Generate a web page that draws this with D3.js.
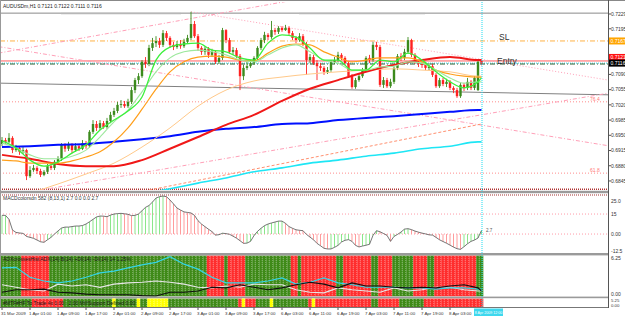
<!DOCTYPE html>
<html><head><meta charset="utf-8">
<script src="https://d3js.org/d3.v7.min.js"></script>
<style>
html,body{margin:0;padding:0;background:#fff;overflow:hidden}
svg{display:block}
text{font-family:"Liberation Sans",Arial,sans-serif}
</style></head><body>
<svg id="chart" width="625" height="316"></svg>
<script>
// ---------------- DATA (prices in 1/10000, i.e. 7116 = 0.7116) ----------------
const symbolTitle = "AUDUSDm,H1  0.7121 0.7122 0.7111 0.7116";
const timeLabels = ["31 Mar 2009","1 Apr 01:00","1 Apr 09:00","1 Apr 17:00","2 Apr 01:00","2 Apr 09:00","2 Apr 17:00","3 Apr 01:00","3 Apr 09:00","3 Apr 17:00","6 Apr 03:00","6 Apr 11:00","6 Apr 19:00","7 Apr 03:00","7 Apr 11:00","7 Apr 19:00","8 Apr 03:00"];
const timeLabelBars = [0,8,16,24,32,40,48,56,64,72,80,88,96,104,112,120,128];
const cursorLabel = "8 Apr 2009 12:00";
const priceTicks = [7229,7195,7090,7055,7020,6985,6950,6915,6880,6845];

const openP = [6930,6939,6935,6944,6916,6921,6912,6916,6856,6870,
6875,6868,6859,6866,6879,6875,6889,6896,6928,6919,
6928,6916,6925,6919,6932,6925,6958,6976,6967,6978,
6969,6983,6997,7006,7020,7022,7017,7027,7054,7077,
7086,7119,7114,7151,7162,7167,7158,7185,7174,7158,
7153,7160,7155,7165,7174,7206,7178,7151,7142,7149,
7135,7142,7119,7128,7192,7169,7142,7146,7132,7086,
7105,7109,7116,7128,7151,7169,7181,7176,7192,7188,
7197,7192,7197,7185,7174,7169,7178,7160,7123,7130,
7116,7109,7105,7096,7100,7119,7123,7135,7128,7116,
7086,7061,7077,7086,7100,7128,7123,7158,7153,7066,
7077,7063,7073,7105,7132,7128,7142,7169,7135,7119,
7114,7112,7105,7109,7089,7063,7077,7068,7073,7059,
7054,7040,7066,7059,7073,7059,7054,7121];
const highP = [6946,6944,6955,6948,6928,6925,6923,6919,6879,6882,
6879,6873,6870,6884,6884,6893,6902,6932,6932,6935,
6932,6932,6930,6939,6937,6962,6985,6983,6985,6983,
6990,7004,7013,7027,7031,7029,7034,7061,7082,7093,
7123,7130,7158,7174,7178,7174,7192,7190,7178,7165,
7167,7169,7172,7181,7234,7213,7183,7155,7155,7153,
7149,7146,7135,7197,7194,7174,7153,7151,7137,7112,
7119,7123,7132,7155,7174,7188,7185,7213,7197,7201,
7201,7204,7201,7190,7178,7185,7183,7165,7137,7135,
7123,7116,7109,7107,7123,7130,7142,7139,7132,7121,
7091,7082,7093,7105,7132,7135,7165,7165,7158,7084,
7082,7080,7109,7137,7139,7149,7176,7172,7139,7123,
7121,7119,7116,7114,7093,7082,7082,7080,7077,7063,
7059,7070,7070,7082,7077,7086,7123,7122];
const lowP = [6925,6930,6932,6909,6912,6905,6907,6847,6852,6866,
6861,6854,6856,6861,6870,6870,6884,6891,6912,6914,
6909,6912,6914,6916,6919,6921,6953,6960,6962,6965,
6965,6978,6992,7001,7013,7013,7013,7022,7047,7068,
7082,7105,7109,7144,7153,7151,7153,7167,7151,7146,
7149,7149,7151,7160,7169,7174,7144,7135,7135,7128,
7130,7114,7114,7123,7162,7137,7135,7128,7054,7077,
7100,7105,7112,7123,7146,7162,7169,7172,7181,7183,
7188,7190,7181,7169,7162,7165,7155,7089,7116,7112,
7077,7098,7089,7091,7096,7114,7119,7123,7112,7082,
7057,7057,7073,7082,7096,7116,7119,7146,7061,7059,
7059,7059,7068,7100,7121,7123,7137,7130,7114,7107,
7105,7100,7100,7084,7059,7059,7063,7061,7054,7047,
7036,7036,7052,7054,7054,7054,7052,7111];
const closeP = [6939,6935,6944,6916,6921,6912,6916,6856,6870,6875,
6868,6859,6866,6879,6875,6889,6896,6928,6919,6928,
6916,6925,6919,6932,6925,6958,6976,6967,6978,6969,
6983,6997,7006,7020,7022,7017,7027,7054,7077,7086,
7119,7114,7151,7162,7167,7158,7185,7174,7158,7153,
7160,7155,7165,7174,7206,7178,7151,7142,7149,7135,
7142,7119,7128,7192,7169,7142,7146,7132,7086,7105,
7109,7116,7128,7151,7169,7181,7176,7192,7188,7197,
7192,7197,7185,7174,7169,7178,7160,7123,7130,7116,
7109,7105,7096,7100,7119,7123,7135,7128,7116,7086,
7061,7077,7086,7100,7128,7123,7158,7153,7066,7077,
7063,7073,7105,7132,7128,7142,7169,7135,7119,7114,
7112,7105,7109,7089,7063,7077,7068,7073,7059,7054,
7040,7066,7059,7073,7059,7082,7119,7116];

// moving averages read at sample bars
const fastIdx = [0,4,8,12,16,20,24,28,32,36,40,44,48,52,56,60,64,68,72,76,80,84,88,92,96,100,104,108,112,116,120,124,128,132,136,137];
const maLime = [6937,6921,6893,6879,6889,6909,6928,6962,6985,7006,7038,7123,7153,7160,7162,7146,7142,7128,7123,7162,7181,7176,7151,7123,7123,7100,7100,7123,7119,7139,7123,7096,7073,7059,7073,7082];
const maPale = [6932,6921,6905,6896,6896,6902,6916,6946,6981,7008,7050,7096,7128,7142,7146,7142,7135,7123,7119,7135,7151,7158,7142,7123,7116,7100,7100,7107,7109,7119,7116,7100,7082,7070,7073,7073];
const maOrange = [6893,6891,6886,6886,6886,6891,6900,6912,6935,6967,7010,7056,7096,7119,7130,7132,7130,7123,7121,7139,7155,7160,7158,7142,7130,7119,7123,7128,7128,7128,7119,7100,7091,7086,7084,7084];
const slowIdx = [0,8,16,24,32,40,48,56,64,72,80,88,96,104,112,120,128,136,137];
const maRed = [6905,6896,6884,6879,6879,6893,6919,6946,6974,6997,7029,7057,7077,7096,7112,7123,7130,7123,7123];
const maBlue = [6923,6925,6928,6930,6935,6941,6948,6958,6965,6969,6976,6978,6985,6990,6994,6999,7004,7008,7008];
const tanIdx = [8,16,24,32,40,48,56,64,72,80,88,96,104,112,120,128,136,137];
const maTan = [6817,6838,6861,6886,6923,6967,7017,7054,7075,7084,7091,7096,7100,7103,7100,7096,7086,7086];
const cyanIdx = [40,48,56,64,72,80,88,96,104,112,120,128,136,137];
const maCyan = [6815,6827,6840,6852,6866,6875,6886,6893,6902,6909,6919,6925,6935,6935];

// trend lines: [barA, priceA, barB, priceB]
const lineUpper = [-1,7139,84,7262];
const lineDown1 = [-1,7154,174,6925];
const lineDown2 = [54,7234,174,7076];
const lineRise1 = [11,6824,174,7048];
const lineRise2 = [42,6824,137,6976];
const lineGray = [-1,7070,174,7043];
// horizontal levels
const levelTop = 7231, levelSL = 7167, levelRed = 7121, levelBid = 7116, levelEntry = 7114;
const fib764 = 7027, fib618 = 6863, levelBottom = 6826;

// MACD per bar
const macd = [14,14,11,3,1.2,0.8,0.5,-1.8,-2.5,-3.2,
-4.5,-5.8,-6.2,-4.3,-2.5,0,2.3,4.5,5.2,5.2,
5.6,6,6,6.4,7.5,9.2,11,12.8,13.5,13.4,
13,14.2,15,15.3,15.5,15.2,14.8,13.8,14,15,
17.5,20,21.4,24,27,28,28.5,28,25.5,22.6,
19.5,18,16.6,16.2,15.8,14,10,7.5,5.5,3.6,
1.8,-0.8,-0.5,0.6,0.3,-0.2,-1.6,-3.1,-5,-7,
-6.8,-5.5,-1.2,2,4.3,6.3,7.5,8.3,9,9.7,
9.7,8,5.6,4.3,3.2,2.8,2.5,-0.3,-2.3,-4.3,
-7,-8.8,-10.7,-11.2,-11.2,-10,-8.5,-6,-4.7,-4.2,
-5.5,-8.5,-9.7,-9,-8.4,-7.7,-1,2.5,1.7,0.4,
-1,-5.5,-1.8,-0.3,1.5,3.7,4,3.3,2.2,1.4,
0.7,0.1,-0.6,-0.8,-2.5,-4.3,-5.6,-6.9,-8.3,-9.8,
-11,-11.5,-9.5,-7.3,-5.5,-4.5,-3,2.7];
const macdLevels = [15,0];
const macdTicks = [25,15,0,-12.5];
const macdTickText = ["25.0","15","0.00","-12.5"];

// ADX panel lines (sampled on fastIdx)
const adxCyan = [4.5,4.6,3.0,2.4,2.1,2.4,3.0,3.7,4.0,4.5,5.0,5.4,6.3,5.1,4.3,3.0,2.1,2.1,2.1,2.4,2.9,1.9,2.2,2.9,2.1,1.8,1.4,1.4,1.4,1.3,1.3,1.1,1.3,1.3,1.1,1.1];
const adxWhite = [1.8,1.4,1.0,0.8,1.9,1.6,1.8,1.4,1.9,2.1,2.2,2.4,2.2,1.9,1.4,1.3,1.6,1.4,1.9,1.8,1.8,1.0,0.6,0.5,1.3,1.0,0.8,0.6,1.3,0.8,1.0,1.4,1.4,1.0,0.8,0.8];
const adxBlack = [0.6,1.0,1.0,1.1,0.6,0.5,0.3,0.2,0.2,0.2,0.05,0.0,0.6,0.6,0.8,1.4,1.3,1.8,1.4,1.0,1.3,1.8,2.2,1.9,1.3,2.1,1.6,1.6,1.4,1.3,1.4,1.3,1.6,1.8,1.3,0.8];
// column states (run lengths)
const trendRuns = [[6,'g'],[8,'r'],[45,'g'],[5,'r'],[1,'g'],[5,'r'],[13,'g'],[2,'r'],[1,'g'],[10,'r'],[2,'g'],[8,'r'],[2,'g'],[4,'r'],[6,'g'],[4,'r'],[2,'g'],[12,'r'],[2,'g']];
const mtfRuns = [[9,'g'],[9,'r'],[14,'g'],[1,'y'],[6,'g'],[1,'y'],[2,'g'],[6,'y'],[20,'g'],[1,'r'],[1,'y'],[3,'r'],[4,'g'],[1,'y'],[10,'g'],[1,'r'],[1,'y'],[16,'r'],[2,'g'],[6,'r'],[7,'g'],[17,'r']];

// ---------------- DRAWING ----------------
const svg = d3.select('#chart');
const N = closeP.length;
const bars = d3.range(N);
const AX = 608.5;
const x = d3.scaleLinear().domain([0, N-1]).range([2, 481.5]);
const yP = d3.scaleLinear().domain([6824.2, 7256.6]).range([190, 2]);
const yM = d3.scaleLinear().domain([-12.5, 29.5]).range([250.7, 194.7]);
const yA = d3.scaleLinear().domain([0, 6.25]).range([296, 257]);
const fs = 5;

svg.append('rect').attr('width',625).attr('height',316).attr('fill','#fff');
const defs = svg.append('defs');
defs.append('clipPath').attr('id','cm').append('rect').attr('x',0).attr('y',2).attr('width',608).attr('height',188);
const main = svg.append('g').attr('clip-path','url(#cm)');

function hline(p, color, dash, w){
  main.append('line').attr('x1',0).attr('x2',608).attr('y1',yP(p)).attr('y2',yP(p))
    .attr('stroke',color).attr('stroke-width',w||1).attr('stroke-dasharray',dash||null);
}
function tline(L, color, dash, w){
  main.append('line').attr('x1',x(L[0])).attr('y1',yP(L[1])).attr('x2',x(L[2])).attr('y2',yP(L[3]))
    .attr('stroke',color).attr('stroke-width',w||1).attr('stroke-dasharray',dash||null);
}
// levels & trend lines
hline(levelTop,'#8a8a8a',null,1);
main.append('line').attr('x1',x(17)).attr('x2',x(51)).attr('y1',yP(levelTop)+0.5).attr('y2',yP(levelTop)+0.5).attr('stroke','#b8b8b8').attr('stroke-width',1.6).attr('stroke-dasharray','1,1');
main.append('line').attr('x1',x(85)).attr('x2',x(121)).attr('y1',yP(levelTop)+0.5).attr('y2',yP(levelTop)+0.5).attr('stroke','#b8b8b8').attr('stroke-width',1.6).attr('stroke-dasharray','1,1');
hline(levelSL,'#ffb347','5,2,1,2',1);
hline(levelRed,'#ff6060',null,1);
hline(levelBid,'#30d0e0','1,1',1);
hline(levelEntry,'#2e5e2e','5,2,1,2',1);
hline(fib764,'#ff8c8c','1,2',1);
hline(fib618,'#ff8c8c','1,2',1);
hline(levelBottom,'#b03030','1,1',1.4);
tline(lineGray,'#808080',null,1);
tline(lineUpper,'#ffa0b8','4,2,1,2',1);
tline(lineDown1,'#ffa0b8','4,2,1,2',1);
tline(lineDown2,'#ffa0b8','1,2',1);
tline(lineRise1,'#ffa0b8','4,2,1,2',1);
tline(lineRise2,'#ff9070','3,2',1);

// candles
const bull = '#3b8a1c', bear = '#ff2020';
main.selectAll('line.wick').data(bars).join('line').attr('class','wick')
  .attr('x1',i=>x(i)).attr('x2',i=>x(i)).attr('y1',i=>yP(highP[i])).attr('y2',i=>yP(lowP[i]))
  .attr('stroke',i=>closeP[i]>=openP[i]?bull:bear).attr('stroke-width',0.9);
main.selectAll('rect.body').data(bars).join('rect').attr('class','body')
  .attr('x',i=>x(i)-1.2).attr('width',2.4)
  .attr('y',i=>yP(Math.max(openP[i],closeP[i])))
  .attr('height',i=>Math.max(0.8,Math.abs(yP(openP[i])-yP(closeP[i]))))
  .attr('fill',i=>closeP[i]>=openP[i]?bull:bear);

// moving averages
function ma(idx, vals, color, w){
  const pts = idx.map((b,k)=>[b, vals[k]]);
  main.append('path').datum(pts)
    .attr('d', d3.line().x(d=>x(d[0])).y(d=>yP(d[1])).curve(d3.curveMonotoneX))
    .attr('fill','none').attr('stroke',color).attr('stroke-width',w);
}
ma(cyanIdx, maCyan, '#1ee6f5', 1.6);
ma(slowIdx, maBlue, '#0010ff', 2);
ma(tanIdx, maTan, '#ffc98a', 1);
ma(slowIdx, maRed, '#f01818', 2);
ma(fastIdx, maOrange, '#ff9f1a', 1.2);
ma(fastIdx, maPale, '#9de89d', 1.1);
ma(fastIdx, maLime, '#3cf03c', 1.3);

// labels on main chart
svg.append('text').attr('x',3).attr('y',7.5).attr('font-size',fs).attr('fill','#222').text(symbolTitle);
svg.append('text').attr('x',499).attr('y',40).attr('font-size',8.5).attr('fill','#333').text('SL');
svg.append('text').attr('x',497).attr('y',64).attr('font-size',8.5).attr('fill','#333').text('Entry');
svg.append('text').attr('x',590).attr('y',yP(fib764)-1).attr('font-size',fs).attr('fill','#ff7a7a').text('76.4');
svg.append('text').attr('x',590).attr('y',yP(fib618)-1).attr('font-size',fs).attr('fill','#ff7a7a').text('61.8');

// ---------- MACD panel ----------
const mg = svg.append('g');
mg.append('line').attr('x1',0).attr('x2',608).attr('y1',195).attr('y2',195).attr('stroke','#a03030').attr('stroke-dasharray','1,1').attr('stroke-width',1.2);
macdLevels.forEach(v=>{
  mg.append('line').attr('x1',0).attr('x2',608).attr('y1',yM(v)).attr('y2',yM(v)).attr('stroke','#ff9aa8').attr('stroke-dasharray','1,2');
});
mg.selectAll('line.mh').data(bars).join('line').attr('class','mh')
  .attr('x1',i=>x(i)).attr('x2',i=>x(i)).attr('y1',yM(0)).attr('y2',i=>yM(macd[i]))
  .attr('stroke',i=>(i===0||macd[i]>=macd[i-1])?'#8be68b':'#ff9c9c').attr('stroke-width',1);
mg.append('path').datum(bars)
  .attr('d', d3.line().x(i=>x(i)).y(i=>yM(macd[i])))
  .attr('fill','none').attr('stroke','#666').attr('stroke-width',0.9);
mg.append('text').attr('x',3).attr('y',200).attr('font-size',fs).attr('fill','#333').text('MACDcolorsdn 582 (8,13,1) 2.7 0.0 0.0 2.7');
mg.append('text').attr('x',486).attr('y',yM(macd[N-1])+2).attr('font-size',4.5).attr('fill','#555').text(d3.format('.1f')(macd[N-1]));

// ---------- ADX panel ----------
const colMap = {g:'#3f8a18', r:'#ff2e2e', y:'#ffff00'};
const trendCols = trendRuns.flatMap(([n,c])=>Array(n).fill(c));
const mtfCols = mtfRuns.flatMap(([n,c])=>Array(n).fill(c));
const ag = svg.append('g');
ag.selectAll('rect').data(bars).join('rect')
  .attr('x',i=>x(i)-1.75).attr('width',3.6).attr('y',255.5).attr('height',40.8)
  .attr('fill',i=>colMap[trendCols[i]]);
ag.selectAll('line.dv').data(bars).join('line').attr('class','dv')
  .attr('x1',i=>x(i)+1.2).attr('x2',i=>x(i)+1.2).attr('y1',256).attr('y2',296)
  .attr('stroke','rgba(255,255,255,0.45)').attr('stroke-dasharray','1,1').attr('stroke-width',0.8);
function adx(vals,color){
  ag.append('path').datum(fastIdx.map((b,k)=>[b,vals[k]]))
    .attr('d', d3.line().x(d=>x(d[0])).y(d=>yA(d[1])))
    .attr('fill','none').attr('stroke',color).attr('stroke-width',1.2);
}
adx(adxWhite,'#e6e6e6');
adx(adxCyan,'#33d6e6');
adx(adxBlack,'#111');
ag.append('text').attr('x',3).attr('y',261).attr('font-size',fs).attr('fill','#1a1a1a').text('ADXcrossesHist ADX(14) B(14) +DI(14) -DI(14) 14 1.25%');

// ---------- MTF panel ----------
const tg = svg.append('g');
tg.selectAll('rect').data(bars).join('rect')
  .attr('x',i=>x(i)-1.75).attr('width',3.6).attr('y',298.5).attr('height',8.5)
  .attr('fill',i=>colMap[mtfCols[i]]);
tg.selectAll('line.dv').data(bars).join('line').attr('class','dv')
  .attr('x1',i=>x(i)+1.2).attr('x2',i=>x(i)+1.2).attr('y1',299).attr('y2',307)
  .attr('stroke','rgba(255,255,255,0.45)').attr('stroke-dasharray','1,1').attr('stroke-width',0.8);
tg.append('text').attr('x',3).attr('y',304.5).attr('font-size',fs).attr('fill','#1a1a1a').text('#MTF#HF To Trade 4x 0.00 · 2.00 Mtf/Support Defined 0.00');

// ---------- frames / separators ----------
svg.append('line').attr('x1',0).attr('x2',625).attr('y1',0.5).attr('y2',0.5).attr('stroke','#888');
svg.append('line').attr('x1',0.5).attr('x2',0.5).attr('y1',0).attr('y2',308).attr('stroke','#999');
[[190.8,2.4],[253,2.4],[296.6,1.6]].forEach(([y,h])=>{
  svg.append('rect').attr('x',0).attr('y',y).attr('width',608).attr('height',h).attr('fill','#9a9a9a');
});
svg.append('line').attr('x1',0).attr('x2',608).attr('y1',307.5).attr('y2',307.5).attr('stroke','#777');
svg.append('line').attr('x1',AX).attr('x2',AX).attr('y1',0).attr('y2',308).attr('stroke','#555');

// right price axis
const ra = svg.append('g');
priceTicks.forEach(p=>{
  ra.append('line').attr('x1',AX).attr('x2',AX+2.5).attr('y1',yP(p)).attr('y2',yP(p)).attr('stroke','#555');
  ra.append('text').attr('x',611).attr('y',yP(p)+1.8).attr('font-size',fs).attr('fill','#333').text((p/10000).toFixed(4));
});
function box(p, fill, tc, dy){
  const yy = yP(p)+(dy||0);
  ra.append('rect').attr('x',609).attr('y',yy-3.5).attr('width',16).attr('height',7).attr('fill',fill);
  ra.append('text').attr('x',610.5).attr('y',yy+1.8).attr('font-size',fs).attr('fill',tc).text((p/10000).toFixed(4));
}
box(levelSL,'#ffa500','#fff');
box(levelRed,'#ff1010','#fff',-3.5);
box(levelBid,'#000','#fff');
// sub-panel axis labels
macdTicks.forEach((v,k)=>{
  ra.append('text').attr('x',611).attr('y',yM(v)+1.8).attr('font-size',fs).attr('fill','#333').text(macdTickText[k]);
});
ra.append('text').attr('x',611).attr('y',259.5).attr('font-size',fs).attr('fill','#333').text('6.25');
ra.append('text').attr('x',611).attr('y',295.5).attr('font-size',fs).attr('fill','#333').text('0.00');
ra.append('text').attr('x',611).attr('y',302).attr('font-size',4.3).attr('fill','#333').text('5.25');
ra.append('text').attr('x',611).attr('y',306.8).attr('font-size',4.3).attr('fill','#333').text('0.00');

// time axis
const ta = svg.append('g');
timeLabelBars.forEach((b,k)=>{
  ta.append('line').attr('x1',x(b)).attr('x2',x(b)).attr('y1',307.5).attr('y2',310).attr('stroke','#555');
  ta.append('text').attr('x',x(b)-1).attr('y',314.5).attr('font-size',4.4).attr('fill','#333').text(timeLabels[k]);
});

// cursor (last bar) vertical line and time box
const cx = x(N-1)+0.5;
svg.append('line').attr('x1',cx).attr('x2',cx).attr('y1',2).attr('y2',308).attr('stroke','#20dcf0').attr('stroke-dasharray','1,1');
svg.append('rect').attr('x',474).attr('y',308.5).attr('width',29).attr('height',7.5).attr('fill','#3ed8ee');
svg.append('text').attr('x',488.5).attr('y',314.2).attr('text-anchor','middle').attr('font-size',3.6).attr('fill','#fff').text(cursorLabel);
</script>
</body></html>
